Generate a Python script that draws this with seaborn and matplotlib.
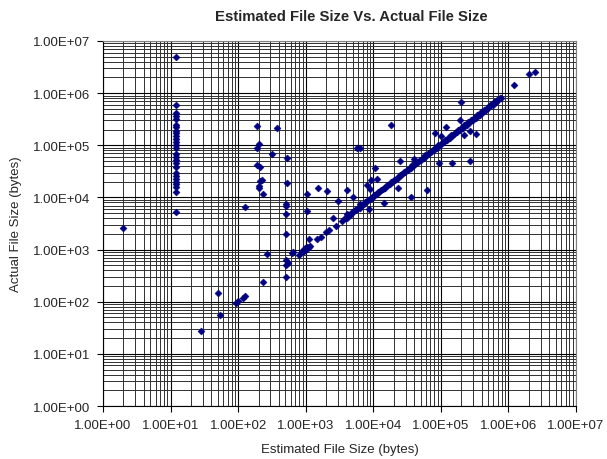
import matplotlib
matplotlib.use("Agg")
import matplotlib.pyplot as plt
from matplotlib.ticker import LogLocator, FuncFormatter, NullFormatter
import numpy as np
import pandas as pd
import seaborn as sns

# Files whose estimate came out at 12 bytes
col12_x = [12] * 27
col12_y = [4.9e6, 5.9e5, 4.1e5, 3.6e5, 3.2e5, 2.5e5, 2.2e5, 1.9e5, 1.7e5,
           1.5e5, 1.3e5, 1.14e5, 1.0e5, 8.8e4, 6.7e4, 5.9e4, 5.2e4, 4.5e4,
           3.9e4, 3.0e4, 2.6e4, 2.3e4, 2.0e4, 1.8e4, 1.56e4, 1.25e4, 5.2e3]

# Files off the main trend
odd_x = [2.0, 28, 50.6, 54.7, 93.4, 99, 117, 126, 235, 263,
         509, 509, 545, 509, 631, 782, 950, 1100, 1167, 1042,
         928, 637, 509, 509, 509, 509, 520, 520, 322, 374,
         193, 205, 193, 193, 207, 207, 224, 205, 205, 235,
         127, 1052, 1052, 1530, 2034, 4075, 3030, 5000, 5660, 6415,
         2530, 3440, 2760, 2180, 2014, 1657, 1445, 14200, 4075, 6415,
         8520, 18000, 24500, 22900, 36500, 62500, 40500, 83000, 102000, 120000,
         93000, 145000, 190000, 218000, 267000, 336000, 274000, 201000, 1200000, 2000000,
         2490000, 10700, 11400, 9240, 8070, 9030]
odd_y = [2650, 28, 149, 54.6, 96, 101, 118, 129, 235, 837,
         299, 515, 555, 622, 861, 801, 970, 1610, 1156, 1030,
         927, 887, 2004, 4860, 6810, 7330, 18600, 56000, 69000, 210000,
         230000, 106000, 88000, 41000, 39000, 21000, 21500, 16500, 14900, 11400,
         6500, 11400, 5460, 15400, 13000, 13800, 8380, 10300, 90000, 90000,
         4120, 3500, 2800, 2350, 2150, 1725, 1630, 7670, 4710, 7330,
         6070, 245000, 49900, 14900, 10300, 13600, 55000, 175000, 151000, 229000,
         46500, 46500, 303000, 160000, 49900, 168000, 188000, 680000, 1450000, 2320000,
         2570000, 37300, 22900, 21200, 17300, 14200]

# Files where the estimate tracked the actual size
trend_x = [880, 920, 960, 1000, 1050, 1100,
           3850, 4040, 4240, 4450, 4670, 4900, 5150, 5400, 5670, 5960, 6250,
           6570, 6900, 7240, 7600, 7980, 8380, 8800, 9240, 9700, 10200, 10700,
           11200, 11800, 12400, 13000, 13700, 14300, 15100, 15800, 16600, 17400,
           18300, 19200, 20200, 21200, 22300, 23400, 24500, 25800, 27000, 28400,
           29800, 31300, 32900, 34500, 36200, 38000, 40000, 42000, 44000, 46200,
           48500, 51000, 53500, 56200, 59000, 62000, 65000, 68300, 71700, 75300,
           79000, 83000, 87100, 91500, 96000, 101000, 106000, 111000, 117000,
           123000, 129000, 135000, 142000, 149000, 157000, 165000, 173000, 181000,
           190000, 200000, 210000, 220000, 231000, 243000, 255000, 268000, 281000,
           295000, 310000, 326000, 342000, 359000, 377000, 396000, 416000, 437000,
           459000, 482000, 506000, 531000, 558000, 586000, 615000, 646000, 678000,
           712000, 748000, 785000]
trend_y = [930, 950, 1050, 1050, 1130, 1140,
           4120, 4120, 4660, 4670, 4810, 5340, 5410, 5830, 5900, 6380, 6380,
           7230, 7250, 7460, 8280, 8380, 9050, 9150, 9890, 9890, 11200, 11200,
           11500, 12900, 13000, 14000, 14200, 15300, 15400, 17400, 17400, 17900,
           19900, 20200, 21800, 22000, 23900, 23900, 27000, 27100, 27800, 31000,
           31300, 33800, 34200, 36900, 36900, 41800, 42000, 43300, 48000, 48500,
           52400, 53000, 57200, 57300, 64900, 65100, 67000, 74400, 75300, 81300,
           82200, 88800, 88800, 101000, 101000, 104000, 116000, 117000, 126000,
           128000, 138000, 138000, 156000, 156000, 162000, 180000, 182000, 195000,
           198000, 214000, 214000, 242000, 243000, 250000, 278000, 281000, 303000,
           307000, 332000, 333000, 376000, 377000, 388000, 432000, 437000, 472000,
           477000, 516000, 516000, 584000, 586000, 604000, 670000, 678000, 732000,
           740000, 800000, 810000]

df = pd.DataFrame({
    "estimated": col12_x + odd_x + trend_x,
    "actual": col12_y + odd_y + trend_y,
})

sns.set_style("white")
plt.rcParams["font.family"] = ["Liberation Sans", "DejaVu Sans"]

fig = plt.figure(figsize=(6.07, 4.60), dpi=100)
ax = fig.add_axes([0.1697, 0.1152, 0.7793, 0.7935])

sns.scatterplot(data=df, x="estimated", y="actual", ax=ax, marker="D",
                s=13, color="#000080", edgecolor="#000080", linewidth=0.3,
                zorder=3, legend=False)

ax.set_xscale("log")
ax.set_yscale("log")
ax.set_xlim(1, 1e7)
ax.set_ylim(1, 1e7)

fmt = FuncFormatter(lambda v, p: f"{v:.2E}")
for axis in (ax.xaxis, ax.yaxis):
    axis.set_major_locator(LogLocator(base=10, numticks=10))
    axis.set_minor_locator(LogLocator(base=10, subs=np.arange(2, 10), numticks=100))
    axis.set_major_formatter(fmt)
    axis.set_minor_formatter(NullFormatter())

ax.grid(True, which="major", color="black", linewidth=0.8, zorder=1)
ax.grid(True, which="minor", color="#303030", linewidth=0.7, zorder=1)
ax.set_axisbelow(True)

ax.tick_params(axis="both", which="major", direction="out", length=4,
               width=0.8, color="black", labelsize=9.5, pad=5,
               bottom=True, left=True, top=False, right=False)
ax.tick_params(axis="both", which="minor", length=0)

for side, sp in ax.spines.items():
    sp.set_color("#808080" if side in ("top", "right") else "black")
    sp.set_linewidth(0.8)

ax.set_xlabel("Estimated File Size (bytes)", fontsize=9.5, labelpad=9)
ax.set_ylabel("Actual File Size (bytes)", fontsize=9.5, labelpad=8)
fig.text(0.578, 0.962, "Estimated File Size Vs. Actual File Size",
         ha="center", va="center", fontsize=10.7, fontweight="bold")

fig.savefig("out.png", dpi=100, facecolor="white")
